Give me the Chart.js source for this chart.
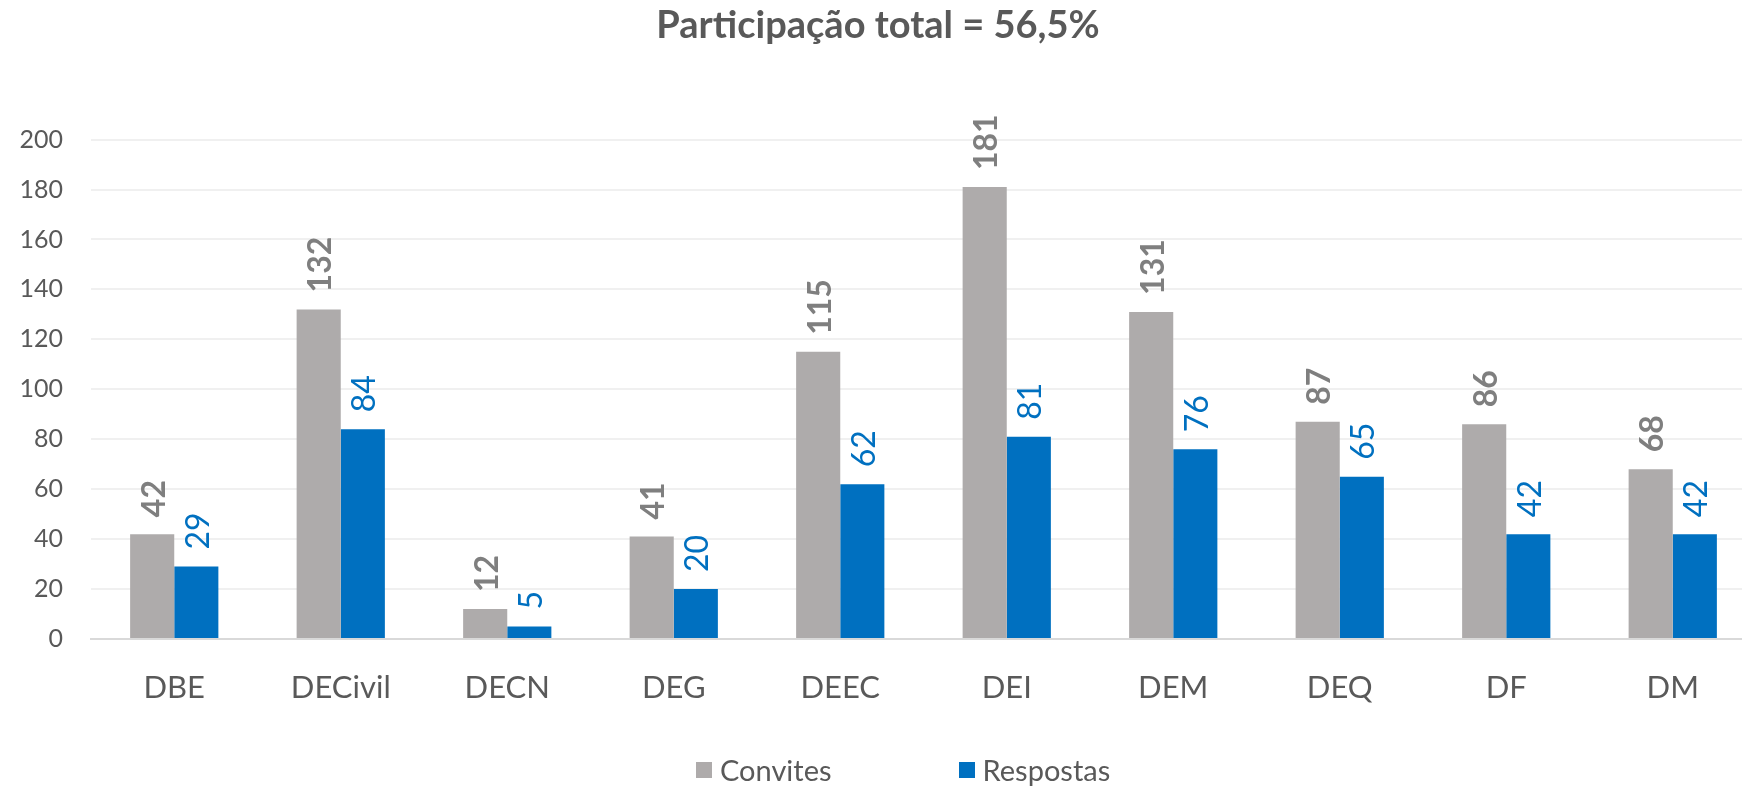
<!DOCTYPE html>
<html>
<head>
<meta charset="utf-8">
<script src="https://cdn.jsdelivr.net/npm/chart.js@4.4.1/dist/chart.umd.min.js"></script>
<style>
  html, body { margin: 0; padding: 0; background: #fff; overflow: hidden; }
  #wrap { position: relative; width: 1766px; height: 789px; }
  #legend {
    position: absolute; top: 752px; left: 696px;
    display: flex; align-items: center;
    font-family: Lato, sans-serif; font-size: 29px; color: #595959;
  }
  .item { display: flex; align-items: center; margin-right: 127px; }
  .box { width: 16px; height: 16px; margin-right: 8px; }
</style>
</head>
<body>
<div id="wrap">
  <canvas id="chart"></canvas>
  <div id="legend"></div>
</div>
<script>
// dados
const categories = ['DBE', 'DECivil', 'DECN', 'DEG', 'DEEC', 'DEI', 'DEM', 'DEQ', 'DF', 'DM'];
const convites = [42, 132, 12, 41, 115, 181, 131, 87, 86, 68];
const respostas = [29, 84, 5, 20, 62, 81, 76, 65, 42, 42];
const seriesNames = ['Convites', 'Respostas'];
const seriesColors = ['#AEABAB', '#0070C0'];
const labelColors = ['#7F7F7F', '#0070C0'];
const labelWeights = ['bold', 'normal'];
const yTicks = [0, 20, 40, 60, 80, 100, 120, 140, 160, 180, 200];
const titleText = 'Participação total = 56,5%';

// etiquetas rodadas por cima das barras
const barLabels = {
    id: 'barLabels',
    afterDatasetsDraw(chart) {
        const ctx = chart.ctx;
        chart.data.datasets.forEach((ds, i) => {
            const meta = chart.getDatasetMeta(i);
            meta.data.forEach((bar, j) => {
                ctx.save();
                ctx.translate(bar.x + 2, bar.y - 17);
                ctx.rotate(-Math.PI / 2);
                ctx.font = labelWeights[i] + ' 32px Lato';
                ctx.fillStyle = labelColors[i];
                ctx.textAlign = 'left';
                ctx.textBaseline = 'middle';
                ctx.fillText(String(ds.data[j]), 0, 0);
                ctx.restore();
            });
        });
    }
};

new Chart(document.getElementById('chart'), {
    type: 'bar',
    data: {
        labels: categories,
        datasets: [
            { label: seriesNames[0], data: convites, backgroundColor: seriesColors[0] },
            { label: seriesNames[1], data: respostas, backgroundColor: seriesColors[1] }
        ]
    },
    options: {
        responsive: true,
        maintainAspectRatio: false,
        animation: false,
        categoryPercentage: 0.53,
        barPercentage: 1.0,
        layout: { padding: { left: 0, right: 10, top: 0, bottom: 0 } },
        plugins: {
            legend: { display: false },
            tooltip: { enabled: false },
            title: {
                display: true,
                text: titleText,
                color: '#595959',
                font: { family: 'Lato', size: 38, weight: 'bold' },
                padding: { top: 3, bottom: 91 }
            }
        },
        scales: {
            x: {
                grid: { display: false, drawTicks: false },
                border: { display: true, color: '#D9D9D9', width: 2 },
                ticks: {
                    color: '#595959',
                    font: { family: 'Lato', size: 31 },
                    padding: 30
                },
                afterFit(scale) { scale.height = 150; }
            },
            y: {
                min: 0,
                max: 200,
                afterBuildTicks(scale) { scale.ticks = yTicks.map(v => ({ value: v })); },
                grid: {
                    drawTicks: false,
                    lineWidth: 2,
                    color: c => (c.tick && c.tick.value === 0) ? '#D9D9D9' : '#F0F0F0'
                },
                border: { display: false },
                ticks: {
                    color: '#595959',
                    font: { family: 'Lato', size: 25 },
                    padding: 28
                },
                afterFit(scale) { scale.width = 91; }
            }
        }
    },
    plugins: [barLabels]
});

// legenda
const legend = document.getElementById('legend');
seriesNames.forEach((name, i) => {
    const item = document.createElement('div');
    item.className = 'item';
    item.innerHTML = '<div class="box" style="background:' + seriesColors[i] + '"></div><span>' + name + '</span>';
    legend.appendChild(item);
});
</script>
</body>
</html>
